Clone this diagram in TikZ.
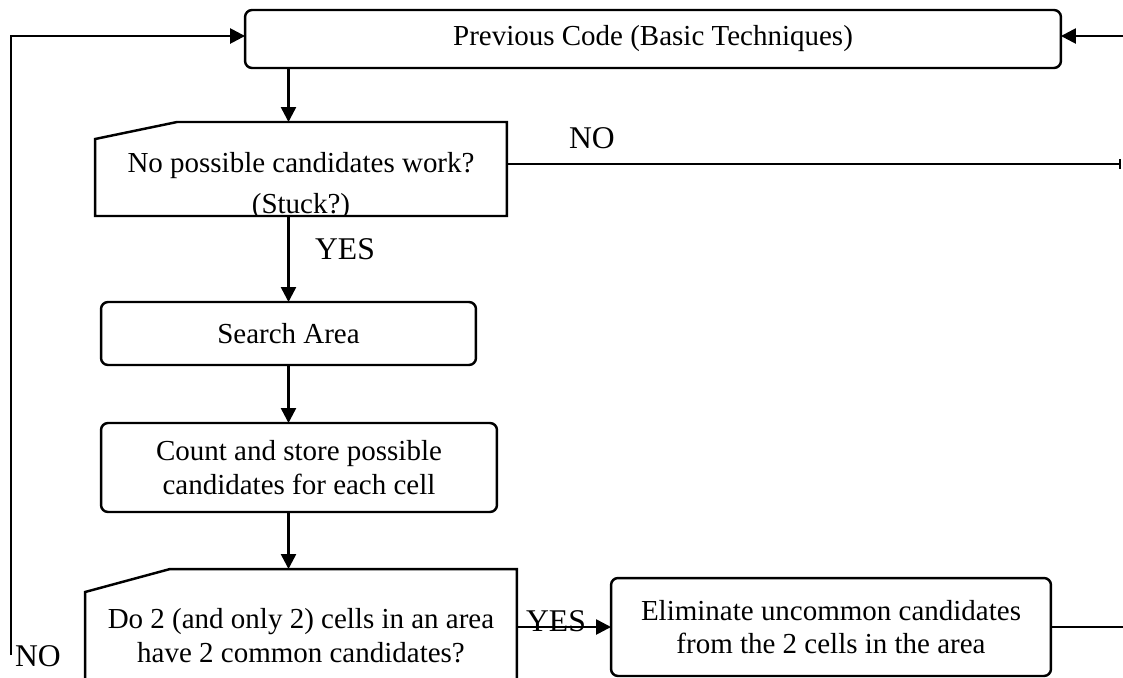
\documentclass[tikz,border=0pt]{standalone}
\usepackage{fontspec}
\setmainfont{Liberation Serif}
\usetikzlibrary{arrows.meta,calc}
\newcommand{\bodyfont}{\fontsize{16.5}{19}\selectfont}
\newcommand{\labfont}{\fontsize{18}{20}\selectfont}

\begin{document}
\begin{tikzpicture}[x={(0.02cm,0cm)},y={(0cm,-0.02cm)},line width=1.4pt,
  every node/.style={inner sep=0pt, outer sep=0pt},
  stepbox/.style={draw, rounded corners=0.14cm, font=\bodyfont, align=center},
  txt/.style={font=\bodyfont, align=center},
  lab/.style={font=\labfont},
  flow/.style={-{Triangle[length=0.3cm,width=0.3cm]}}]

\useasboundingbox (0,0) rectangle (1123,677);

\node[stepbox, minimum width=16.32cm, minimum height=1.16cm] (prev) at (653,39) {Previous Code (Basic Techniques)};
\node[minimum width=8.24cm, minimum height=1.88cm] (ask1) at (301,169) {};
\draw ($(ask1.north west)+(0,17)$) -- ($(ask1.north west)+(82,0)$) -- (ask1.north east) -- (ask1.south east) -- (ask1.south west) -- cycle;
\begin{scope}
\clip (ask1.south west) rectangle (ask1.north east);
\node[txt] (ask1txt) at (301,186) {No possible candidates work?\\[0.14cm](Stuck?)};
\end{scope}
\node[stepbox, minimum width=7.5cm, minimum height=1.26cm] (srch) at (288.5,333.5) {Search Area};
\node[stepbox, minimum width=7.92cm, minimum height=1.78cm] (cnt) at (299,467.5) {Count and store possible\\candidates for each cell};
\node[txt, minimum width=8.64cm, minimum height=2.66cm] (ask2) at (301,635.5) {Do 2 (and only 2) cells in an area\\have 2 common candidates?};
\draw ($(ask2.north west)+(0,23)$) -- ($(ask2.north west)+(85,0)$) -- (ask2.north east) -- (ask2.south east) -- (ask2.south west) -- cycle;
\node[stepbox, minimum width=8.8cm, minimum height=1.96cm] (elim) at (831,627) {Eliminate uncommon candidates\\from the 2 cells in the area};

\node[lab] (no1) at (592,138) {NO};
\node[lab] (yes1) at (345,249) {YES};
\node[lab] (yes2) at (556,621) {YES};
\node[lab] (no2) at (38,656) {NO};

\coordinate (noend) at (1121,164);
\coordinate (nobot) at (11,655);
\coordinate (back) at (1150,300);

\draw[flow] (prev.south -| srch.north) -- (ask1.north -| srch.north);
\draw[flow] (ask1.south -| srch.north) -- (srch.north);
\draw[flow] (srch.south) -- (cnt.north -| srch.south);
\draw[flow] (cnt.south -| srch.south) -- (ask2.north -| srch.south);
\draw[flow] (ask2.east |- elim.west) -- (elim.west);
\draw[-{Bar[width=0.2cm]}] (ask1.east |- noend) -- (noend);
\draw[flow] (elim.east) -| (back) |- ([yshift=0.06cm]prev.east);
\draw[flow] (nobot) |- ([yshift=0.06cm]prev.west);
\end{tikzpicture}
\end{document}
